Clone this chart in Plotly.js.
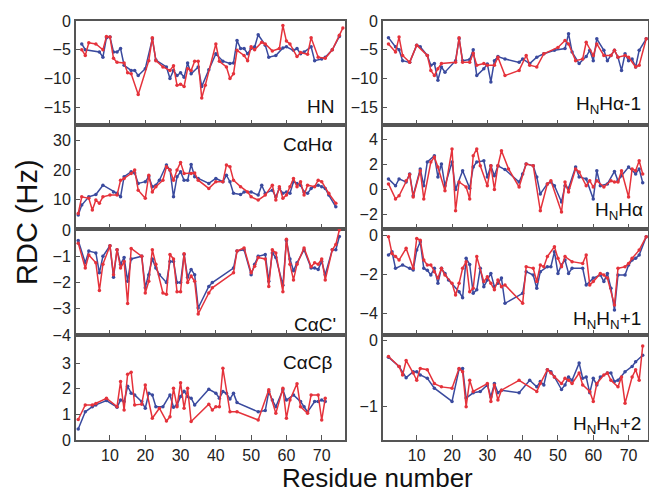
<!DOCTYPE html>
<html><head><meta charset="utf-8">
<script src="https://cdn.plot.ly/plotly-3.0.1.min.js"></script>
<style>html,body{margin:0;padding:0;background:#fff}#chart{width:649px;height:494px}</style>
</head><body><div id="chart"></div>
<script>
// ---- HN ----
const hnBlueX = [2,3,7,8,9,10,11,12,13,14,16,17,18,20,22,23,26,27,28,29,30,31,32,33,35,36,38,40,42,44,45,46,47,48,49,50,51,52,54,55,57,59,60,62,63,64,65,67,68,70,71,73,75];
const hnBlueY = [-4,-5,-5.4,-6.3,-2.9,-2.8,-5.4,-5.4,-4.8,-7.7,-8.6,-8.6,-9.5,-8.3,-3.1,-6.8,-8,-10,-8.6,-9.5,-9,-9.8,-7.3,-9.2,-8,-11.4,-8.5,-5.7,-7,-7.4,-7.3,-3.4,-4.8,-4.8,-5.7,-4.8,-4.5,-2.4,-4.2,-6.3,-6,-4.7,-4.5,-5.1,-4.8,-5.7,-5.4,-4.5,-6.9,-6.6,-6.3,-5,-2.7];
const hnRedX = [2,3,4,6,8,9,10,11,12,14,15,16,18,21,22,23,25,27,28,29,30,31,32,33,34,35,36,37,40,41,43,44,45,46,48,49,50,51,53,54,56,58,59,60,61,63,64,66,67,69,71,73,75,76];
const hnRedY = [-5,-6,-3.8,-4,-5,-2.7,-2.8,-6.5,-7.2,-7.3,-9,-9.2,-12.8,-6.9,-2.9,-6.9,-8,-8.6,-7.8,-11.2,-11,-11.4,-8.3,-8.6,-7,-7,-13.4,-11.2,-4,-7,-8,-10,-9.2,-5.1,-6,-6.9,-4.5,-5,-3.7,-4,-5.2,-4.8,-0.8,-3.5,-4,-6.2,-5.5,-5.8,-2.9,-6.3,-6.5,-5,-2.5,-1.2];
// ---- HNHa-1 ----
const hnha1BlueX = [2,4,5,6,8,10,11,13,14,15,16,17,18,21,22,23,25,26,27,29,30,31,32,33,35,39,40,42,44,46,49,52,53,54,56,58,59,60,61,63,64,65,66,67,68,69,70,71,72,73,75];
const hnha1BlueY = [-2.9,-4.5,-5,-6.9,-7.2,-4.2,-4.5,-6,-7.7,-7.4,-10.3,-8,-8.9,-6.9,-3.1,-6.9,-6.7,-5,-9.5,-8.3,-7.5,-10.6,-6.9,-6.2,-6.6,-7.2,-6.6,-7.4,-6.3,-5.7,-5.1,-4.8,-2.2,-5.4,-7.4,-6.2,-5.1,-6.9,-3.1,-5.1,-6.9,-6,-5.1,-6.3,-8.6,-5.7,-6.9,-6.6,-8,-5.1,-3.1];
const hnha1RedX = [2,4,5,6,8,10,13,14,15,16,17,21,22,23,25,26,27,29,30,32,33,35,39,41,42,44,46,50,52,53,55,57,58,60,61,63,65,66,67,69,70,72,73,75];
const hnha1RedY = [-4,-5.4,-2.8,-6,-7.2,-4.2,-6,-8.6,-9.5,-8.3,-7.4,-7.2,-2.9,-7.2,-7.2,-5.6,-7.7,-7.4,-7.7,-7.7,-6.3,-9.5,-8.6,-6,-7.7,-8,-5.7,-4.6,-3.4,-4,-6.9,-6.6,-3.7,-6,-4,-6,-6,-5.1,-6.3,-6,-6.3,-8,-7.7,-3.1];
// ---- CaHa ----
const cahaBlueX = [1,2,4,6,8,11,12,13,14,16,17,18,20,21,22,23,24,26,27,28,29,30,31,32,33,34,35,38,40,42,43,44,45,47,48,50,52,53,54,56,57,58,59,60,61,62,63,64,65,66,67,69,70,71,72,74];
const cahaBlueY = [4.6,8,10.8,11.6,14.8,12.5,12,10.8,17.7,19.4,19,15.4,16,17.7,14.3,14.8,16.5,21.7,20,10.8,17.7,19.4,16.5,16.5,21.9,17.7,17.1,15.4,17.1,16,18.2,16,12,11.6,12.5,12.5,11.4,14.8,12,13.1,10.8,13.7,12,12.5,12,16,15.4,14.8,12.5,12,13.7,14.8,14.3,13.7,11.4,7.4];
const cahaRedX = [1,2,4,5,6,7,8,10,12,13,14,16,17,18,20,21,22,23,25,26,27,28,29,30,31,33,34,35,38,40,42,43,44,45,47,49,50,52,54,56,57,58,59,60,61,62,63,64,65,66,68,69,70,72,74];
const cahaRedY = [5.1,10.8,10.3,6.3,9.7,8.6,10.8,11.4,11.4,16.5,17.1,18.8,20,13.1,10.3,18.2,12.5,14.3,16.5,21.1,20,16.5,20,22.6,18.8,18.8,19,16.5,13.7,16,16,21.7,21.1,16.5,14.3,12.5,10.8,9.7,11.4,14.8,9.7,14.3,10.3,11.4,14.3,17.1,14.3,16,11.4,14.8,14.3,16.5,16,12,8.6];
// ---- HNHa ----
const hnhaBlueX = [2,4,5,7,8,9,11,12,13,15,16,17,18,20,21,23,25,26,27,29,30,31,32,33,35,39,40,41,43,44,45,47,48,49,51,52,53,55,56,58,60,61,62,64,66,67,68,70,72,73,74];
const hnhaBlueY = [0.85,0.3,0.85,0.6,1.25,-0.5,1.65,0.3,2.2,2.7,1,2.05,0.3,2.2,0,1.5,0.1,1.8,2.2,2.3,1,1.9,1.1,1.9,1.6,0.6,1.25,2.05,1.9,1,-0.35,0.45,0.6,0.3,-1,0.3,0.1,1.8,1,0.85,-0.75,1.5,0.3,0.45,1.45,0.7,1.1,1.8,1.25,1.65,0.55];
const hnhaRedX = [2,4,5,7,8,9,11,12,14,15,16,18,20,21,22,24,25,26,27,28,30,31,32,33,34,36,39,41,43,45,47,48,51,52,53,55,56,58,59,60,61,63,65,66,67,68,70,71,72,73,74];
const hnhaRedY = [0.45,-0.75,-0.5,0.7,1.2,-0.6,1.5,-0.75,2.2,2.6,1.8,-0.1,3.25,-1.7,0.6,0.2,-0.75,2.7,3.25,1.9,0.3,1.9,0,1.9,3.1,1.65,0.2,2.05,1.9,-1.7,0.45,0.7,-1.8,0.6,-0.2,1.65,1.4,0.3,0.7,0.2,0.7,0.2,0.7,0.6,0.6,1.5,-0.6,1.65,1.5,2.3,1.25];
// ---- CaC' ----
const cacBlueX = [1,3,4,6,7,8,10,11,12,13,14,15,16,19,20,21,22,23,24,26,27,28,29,30,31,32,33,34,35,38,39,45,46,48,50,51,52,54,55,56,57,59,60,61,62,63,65,67,68,69,70,71,73,74,75];
const cacBlueY = [-0.4,-1.25,-0.8,-0.87,-1.63,-1,-0.6,-1.8,-0.75,-1.3,-1.05,-1.95,-1.1,-1,-2.2,-1.7,-1.1,-1.45,-1.7,-2,-1.2,-1.2,-2,-2,-0.93,-1.8,-1.5,-1.7,-2.97,-2.15,-2,-1.45,-0.8,-0.75,-1.7,-1.3,-1,-0.93,-1.95,-0.87,-1.05,-2.1,-0.4,-1.1,-1.55,-1.25,-0.75,-1.45,-1.45,-1.5,-1.2,-1.7,-0.75,-0.75,-0.25];
const cacRedX = [1,3,4,6,7,8,10,11,12,13,14,15,16,19,20,21,22,23,25,26,27,28,29,30,31,32,33,34,35,38,39,45,46,48,50,51,52,54,55,56,57,59,60,61,62,63,65,67,68,69,70,71,73,74,75];
const cacRedY = [-0.5,-1.45,-0.95,-1.25,-2.3,-1.3,-0.6,-1.7,-0.75,-1.45,-1.2,-2.8,-0.7,-1,-2.4,-1.95,-0.75,-1.3,-2.4,-2.45,-0.93,-1.1,-2.35,-2.35,-0.9,-2,-1.75,-1.95,-3.2,-2.4,-2.2,-1.63,-0.8,-0.68,-1.63,-1.38,-1.05,-1.1,-2.15,-0.75,-0.87,-2.35,-0.35,-1.3,-1.9,-1.3,-0.68,-1.4,-1.25,-1.3,-1.1,-1.9,-0.75,-0.55,0];
// ---- HNHN+1 ----
const hn1BlueX = [2,3,4,6,8,9,10,11,12,13,14,15,16,17,18,19,22,23,24,25,26,27,28,29,30,31,32,33,34,35,40,41,43,44,45,47,48,49,50,51,52,53,54,57,58,60,62,63,64,65,66,67,69,70,71,72,73,75];
const hn1BlueY = [-1.02,-0.85,-1.7,-1.53,-1.7,-1.79,-0.77,-0.34,-1.7,-1.8,-2.04,-1.7,-2.47,-1.7,-1.96,-2.3,-2.9,-3.2,-1.19,-1.5,-2.98,-2.8,-1.7,-2.64,-2.3,-1.96,-2.64,-2.47,-2.2,-3.49,-2.98,-1.87,-2.04,-2.72,-1.87,-1.62,-1.62,-0.85,-1.96,-1.53,-1.28,-1.96,-1.7,-1.7,-2.55,-2.2,-2.04,-2.38,-1.96,-2.72,-3.83,-2.04,-2.04,-1.53,-1.28,-1.19,-1.02,-0.08];
const hn1RedX = [2,3,4,5,7,9,10,11,12,13,14,15,16,17,18,20,21,22,23,24,25,26,27,29,30,31,32,33,34,35,40,41,43,44,45,46,47,49,50,51,52,54,57,58,59,60,62,63,64,66,67,69,70,71,73,75];
const hn1RedY = [-0.08,-0.94,-1.1,-1.28,-0.68,-1.7,-0.17,-0.26,-1.28,-1.53,-1.53,-1.87,-2.2,-1.7,-2.04,-2.47,-3.06,-2.47,-1.7,-1.36,-2.9,-2.72,-1.1,-2.38,-2.13,-2.47,-2.8,-2.3,-2.64,-2.55,-3.49,-1.62,-1.7,-2.38,-1.53,-1.62,-1.1,-0.6,-1.19,-1.62,-1.1,-1.36,-1.45,-1.02,-2.55,-2.38,-1.96,-2.04,-2.2,-3.57,-1.7,-1.62,-1.45,-1.19,-0.77,-0.08];
// ---- CaCb ----
const cacbBlueX = [1,3,5,6,9,12,13,14,15,16,17,19,20,21,22,23,25,27,28,29,30,31,32,33,34,38,40,41,42,43,44,45,46,52,54,55,56,57,59,60,62,64,65,66,68,69,70,71];
const cacbBlueY = [0.43,1.1,1.3,1.37,1.54,1.28,1.56,1.5,2.1,1.83,1.76,1.5,1.24,1.83,1.76,1.3,1.3,1.76,1.28,1.37,1.7,1.9,1.7,1.63,1.37,1.98,1.83,1.63,1.89,1.83,1.6,1.83,1.46,1.1,1.15,1.89,1.56,1.3,1.96,1.56,1.76,1.5,1.3,1.1,1.5,1.5,1.56,1.5];
const cacbRedX = [1,3,5,6,9,12,13,14,15,16,17,19,20,22,24,26,27,28,29,30,31,32,33,38,39,40,41,42,44,46,52,55,57,59,60,61,63,64,66,67,69,70,71];
const cacbRedY = [0.8,1.37,1.37,1.43,1.63,1.3,2.28,1.17,2.57,2.65,1.37,1.4,2.15,0.85,1.24,0.74,0.91,2.02,1.3,2.24,1.24,2.02,0.72,1.4,1.17,1.3,1.3,2.8,1.1,1.1,0.78,1.96,1.04,2.02,0.85,1.56,2.2,1.3,1.04,1.76,1.76,0.78,1.63];
// ---- HNHN+2 ----
const hn2BlueX = [2,5,7,9,10,11,13,15,20,22,23,24,26,28,30,31,32,33,34,39,42,44,45,46,47,48,49,51,52,53,54,56,57,58,59,60,61,62,64,65,66,67,69,71,72,74];
const hn2BlueY = [-0.26,-0.4,-0.57,-0.48,-0.48,-0.53,-0.58,-0.73,-0.93,-0.44,-0.43,-0.88,-0.8,-0.78,-0.68,-0.86,-0.66,-0.8,-0.76,-0.8,-0.61,-0.71,-0.63,-0.68,-0.45,-0.48,-0.56,-0.75,-0.68,-0.56,-0.61,-0.35,-0.58,-0.56,-0.8,-0.58,-0.68,-0.56,-0.5,-0.5,-0.63,-0.61,-0.48,-0.4,-0.33,-0.23];
const hn2RedX = [2,5,6,7,9,10,11,13,15,17,20,22,23,24,25,26,30,31,32,33,34,39,44,45,47,48,49,51,52,53,54,56,57,59,60,61,63,64,65,67,68,69,71,72,73,74];
const hn2RedY = [-0.25,-0.4,-0.53,-0.31,-0.5,-0.61,-0.43,-0.45,-0.66,-0.71,-0.73,-0.43,-0.48,-1.01,-0.61,-0.78,-0.66,-0.93,-0.68,-0.91,-0.76,-0.61,-0.78,-0.66,-0.45,-0.5,-0.56,-0.66,-0.58,-0.61,-0.66,-0.5,-0.68,-0.78,-0.93,-0.66,-0.53,-0.5,-0.61,-0.71,-0.56,-0.96,-0.56,-0.45,-0.61,-0.09];

const xTickVals = [10,20,30,40,50,60,70];
const panelLabels = ['HN','CαHα',"CαC'",'CαCβ','H<sub>N</sub>Hα-1','H<sub>N</sub>Hα','H<sub>N</sub>H<sub>N</sub>+1','H<sub>N</sub>H<sub>N</sub>+2'];

const W = 649, H = 494;
const BLUE = '#3a4a9e', RED = '#e5323b';
const FONT = 'Liberation Sans, Arial, Helvetica, sans-serif';

const panels = [
  {bx:hnBlueX, by:hnBlueY, rx:hnRedX, ry:hnRedY, col:0, row:0, yr:[-18.1,0], tv:[0,-5,-10,-15], lab:[336,106]},
  {bx:cahaBlueX, by:cahaBlueY, rx:cahaRedX, ry:cahaRedY, col:0, row:1, yr:[-0.2,35.4], tv:[10,20,30], lab:[334,145]},
  {bx:cacBlueX, by:cacBlueY, rx:cacRedX, ry:cacRedY, col:0, row:2, yr:[-4,0.04], tv:[0,-1,-2,-3,-4], lab:[338,324]},
  {bx:cacbBlueX, by:cacbBlueY, rx:cacbRedX, ry:cacbRedY, col:0, row:3, yr:[0,4.1], tv:[0,1,2,3], lab:[334,362]},
  {bx:hnha1BlueX, by:hnha1BlueY, rx:hnha1RedX, ry:hnha1RedY, col:1, row:0, yr:[-18.1,0], tv:[0,-5,-10,-15], lab:[643,105]},
  {bx:hnhaBlueX, by:hnhaBlueY, rx:hnhaRedX, ry:hnhaRedY, col:1, row:1, yr:[-3.16,5.16], tv:[4,2,0,-2], lab:[645,211]},
  {bx:hn1BlueX, by:hn1BlueY, rx:hn1RedX, ry:hn1RedY, col:1, row:2, yr:[-5.11,0.31], tv:[0,-2,-4], lab:[643,320]},
  {bx:hn2BlueX, by:hn2BlueY, rx:hn2RedX, ry:hn2RedY, col:1, row:3, yr:[-1.515,0.076], tv:[0,-1], lab:[643,425]}
];
const colX = [[76,345],[383,648]];
const colRange = [[0.37,76.6],[0.45,75.5]];
const rowY = [[21,125],[125,229],[229,335],[335,440]];

const data = [], layout = {
  width: W, height: H, margin:{l:0,r:0,t:0,b:0},
  paper_bgcolor:'#fff', plot_bgcolor:'#fff', showlegend:false,
  font:{family:FONT, color:'#222'}, annotations:[]
};
panels.forEach((p,i) => {
  const n = i+1, xa = 'x'+(n===1?'':n), ya = 'y'+(n===1?'':n);
  const line = (x,y,c) => ({x, y, xaxis:xa, yaxis:ya, type:'scatter', mode:'lines+markers',
    line:{color:c, width:1.5}, marker:{color:c, size:3.5}, hoverinfo:'skip'});
  data.push(line(p.bx,p.by,BLUE));
  data.push(line(p.rx,p.ry,RED));
  const cx = colX[p.col], ry = rowY[p.row];
  layout['xaxis'+(n===1?'':n)] = {
    domain:[cx[0]/W, cx[1]/W], range:colRange[p.col], anchor:ya,
    showline:true, mirror:true, linecolor:'#555', linewidth:2,
    showgrid:false, zeroline:false, ticks:'inside', ticklen:5, tickcolor:'#555', tickwidth:1,
    tickvals:xTickVals, showticklabels:p.row===3, tickfont:{size:16, color:'#222', family:FONT}
  };
  layout['yaxis'+(n===1?'':n)] = {
    domain:[1-ry[1]/H, 1-ry[0]/H], range:p.yr, anchor:xa,
    showline:true, mirror:true, linecolor:'#555', linewidth:2,
    showgrid:false, zeroline:false, ticks:'inside', ticklen:4, tickcolor:'#555', tickwidth:1,
    tickvals:p.tv, tickfont:{size:16, color:'#222', family:FONT}
  };
  layout.annotations.push({xref:'paper', yref:'paper', x:p.lab[0]/W, y:1-p.lab[1]/H,
    xanchor:'right', yanchor:'middle', showarrow:false, text:panelLabels[i],
    font:{size:19, color:'#111', family:FONT}});
});
layout.annotations.push({xref:'paper', yref:'paper', x:27/W, y:1-222/H, textangle:-90,
  xanchor:'center', yanchor:'middle', showarrow:false, text:'RDC (Hz)', font:{size:29, color:'#111', family:FONT}});
layout.annotations.push({xref:'paper', yref:'paper', x:377/W, y:1-478/H,
  xanchor:'center', yanchor:'middle', showarrow:false, text:'Residue number', font:{size:26, color:'#111', family:FONT}});

Plotly.newPlot('chart', data, layout, {staticPlot:true, displayModeBar:false});
</script></body></html>
